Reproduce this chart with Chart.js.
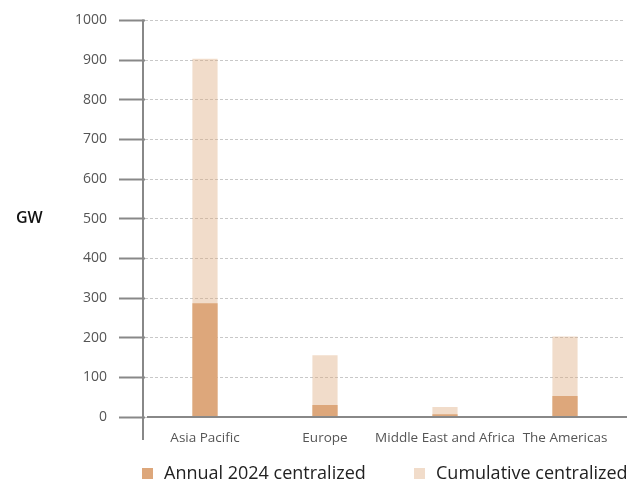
<!DOCTYPE html>
<html>
<head>
<meta charset="utf-8">
<script src="https://cdn.jsdelivr.net/npm/chart.js@4/dist/chart.umd.min.js"></script>
<style>
  html, body { margin: 0; padding: 0; background: #fff; }
  #wrap { position: relative; width: 642px; height: 481px; font-family: "Open Sans", sans-serif; }
  #unit { position: absolute; left: 16px; top: 206px; font-size: 16px; font-weight: 600; color: #111; }
  #legend { position: absolute; left: 0; top: 461px; width: 642px; height: 20px; }
  .item { position: absolute; top: 0; font-size: 18px; color: #222; line-height: 22px; white-space: nowrap; }
  .item span { display: inline-block; width: 11px; height: 11px; margin-right: 11px; vertical-align: 0px; }
</style>
</head>
<body>
<div id="wrap">
  <canvas id="barChart" width="642" height="481"></canvas>
  <div id="unit">GW</div>
  <div id="legend"></div>
</div>
<script>
// Regions and capacity (GW)
const categories = ['Asia Pacific', 'Europe', 'Middle East and Africa', 'The Americas'];
const annual2024 = [287, 30, 7, 53];
const cumulative = [903, 156, 25, 203];
const yTicks = [0, 100, 200, 300, 400, 500, 600, 700, 800, 900, 1000];

const darkColor = '#dda77b';
const lightColor = 'rgba(221,167,123,0.4)';

// axis lines: y axis runs a bit below zero, x axis starts just right of it
const axisLines = {
    id: 'axisLines',
    afterDatasetsDraw(chart) {
        const {ctx, chartArea: a} = chart;
        ctx.save();
        ctx.strokeStyle = '#888';
        ctx.lineWidth = 2;
        ctx.beginPath();
        ctx.moveTo(a.left - 2, a.top - 1);
        ctx.lineTo(a.left - 2, a.bottom + 23);
        ctx.moveTo(a.left + 2, a.bottom);
        ctx.lineTo(a.right + 2, a.bottom);
        ctx.stroke();
        ctx.restore();
    }
};

const chart = new Chart(document.getElementById('barChart'), {
    type: 'bar',
    data: {
        labels: categories,
        datasets: [
            { label: 'Annual 2024 centralized', data: annual2024, backgroundColor: darkColor, grouped: false, barPercentage: 0.21, categoryPercentage: 1 },
            { label: 'Cumulative centralized', data: cumulative, backgroundColor: lightColor, grouped: false, barPercentage: 0.21, categoryPercentage: 1 }
        ]
    },
    options: {
        responsive: false,
        animation: false,
        layout: { padding: { top: 19, right: 17, bottom: 0, left: 0 } },
        plugins: { legend: { display: false }, tooltip: { enabled: false } },
        scales: {
            x: {
                grid: { display: false, drawTicks: false },
                border: { display: false },
                ticks: { color: '#555', font: { family: 'Open Sans', size: 13.5 }, padding: 13, maxRotation: 0, autoSkip: false },
                afterFit: s => { s.height = 64; }
            },
            y: {
                min: 0,
                max: 1000,
                afterBuildTicks: s => { s.ticks = yTicks.map(v => ({ value: v })); },
                grid: { color: '#c8c8c8', lineWidth: 1, borderDash: [3, 2], tickColor: '#888', tickWidth: 2, tickLength: 26, tickBorderDash: [] },
                border: { display: false, dash: [3, 2] },
                ticks: { color: '#555', font: { family: 'Open Sans', size: 14 }, padding: 12, callback: v => String(v) },
                afterFit: s => { s.width = 145; }
            }
        }
    },
    plugins: [axisLines]
});

// legend below the plot, as in the original
const legend = document.getElementById('legend');
const legendX = [142, 414];
chart.data.datasets.forEach((ds, i) => {
    const el = document.createElement('div');
    el.className = 'item';
    el.style.left = legendX[i] + 'px';
    el.innerHTML = '<span style="background:' + ds.backgroundColor + '"></span>' + ds.label;
    legend.appendChild(el);
});
</script>
</body>
</html>
